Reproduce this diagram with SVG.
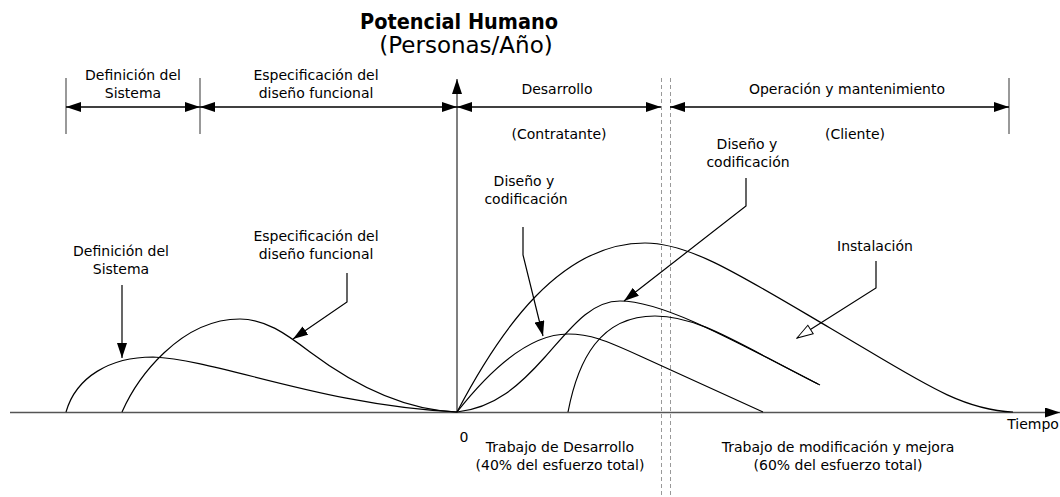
<svg xmlns="http://www.w3.org/2000/svg" width="1060" height="497" viewBox="0 0 1060 497">
<style>
text{font-family:"DejaVu Sans","Liberation Sans",sans-serif;font-size:14px;fill:#000;text-anchor:middle}
.title{font-weight:bold;font-size:22px}
.sub{font-size:23px}
.curve{fill:none;stroke:#000;stroke-width:1.2}
.call{fill:none;stroke:#000;stroke-width:1.2}
.dim{fill:none;stroke:#000;stroke-width:1.4}
.tick{stroke:#777;stroke-width:1.5}
.axis{stroke:#555;stroke-width:1.5;fill:none}
.dash{stroke:#999;stroke-width:1;stroke-dasharray:4 3}
</style>
<defs>
<marker id="ah" viewBox="0 0 15 10" refX="15" refY="5" markerWidth="15" markerHeight="10" markerUnits="userSpaceOnUse" orient="auto-start-reverse"><path d="M0,0 L15,5 L0,10 z" fill="#000"/></marker>
<marker id="ao" viewBox="-1 -1 18 12" refX="16" refY="5" markerWidth="18" markerHeight="12" markerUnits="userSpaceOnUse" orient="auto"><path d="M0,0 L16,5 L0,10 z" fill="#fff" stroke="#000" stroke-width="1"/></marker>
</defs>
<rect width="1060" height="497" fill="#fff"/>

<g id="axes">
<line class="dash" x1="661.5" y1="78" x2="661.5" y2="497"/>
<line class="dash" x1="670.5" y1="78" x2="670.5" y2="497"/>
<line class="axis" x1="10" y1="412.5" x2="1060" y2="412.5" marker-end="url(#ah)"/>
<line class="axis" x1="457" y1="412.5" x2="457" y2="79" marker-end="url(#ah)"/>
<line class="tick" x1="66" y1="78" x2="66" y2="134"/>
<line class="tick" x1="200" y1="78" x2="200" y2="134"/>
<line class="tick" x1="1009" y1="78" x2="1009" y2="134"/>
</g>

<g id="title">
<text class="title" x="459" y="29" textLength="198" lengthAdjust="spacingAndGlyphs">Potencial Humano</text>
<text class="sub" x="466" y="53">(Personas/Año)</text>
</g>

<g id="connectors">
<path class="dim" d="M66,107 H200" marker-start="url(#ah)" marker-end="url(#ah)"/>
<path class="dim" d="M200,107 H457" marker-start="url(#ah)" marker-end="url(#ah)"/>
<path class="dim" d="M457,107 H661" marker-start="url(#ah)" marker-end="url(#ah)"/>
<path class="dim" d="M670,107 H1009" marker-start="url(#ah)" marker-end="url(#ah)"/>
<path class="call" d="M122,285 L122,358" marker-end="url(#ah)"/>
<path class="call" d="M347,273 L347,302 L293,339" marker-end="url(#ah)"/>
<path class="call" d="M523,227 L523,255 L543,336" marker-end="url(#ah)"/>
<path class="call" d="M746,178 L746,206 L624,301" marker-end="url(#ah)"/>
<path class="call" d="M876,261 L876,288 L797,338" marker-end="url(#ao)"/>
</g>

<g id="curves">
<path id="c-definicion" class="curve" d="M66,412 C76,377 110,357 153,357 C220,360 320,405 457,412"/>
<path id="c-especificacion" class="curve" d="M122,412 C137,378 180,319 240,319 C265,319 285,333 310,352 C350,382 400,410 457,412"/>
<path id="c-instalacion" class="curve" d="M457,412 C500,330 560,243 645,243 C690,243 740,275 830,328 C920,381 960,410 1013,412"/>
<path id="c-diseno1" class="curve" d="M457,412 C490,370 530,334 568,334 C590,334 605,340 640,356 L763,412"/>
<path id="c-diseno2" class="curve" d="M457,412 C495,408 520,385 545,357 C570,329 590,301 620,301 C660,301 720,333 820,385"/>
<path id="c-diseno3" class="curve" d="M568,412 C578,360 600,316 655,316 C700,316 740,345 818,384"/>
</g>

<g id="phase-definicion">
<text x="133" y="80">Definición del</text>
<text x="133" y="98">Sistema</text>
</g>
<g id="phase-especificacion">
<text x="316" y="80">Especificación del</text>
<text x="316" y="98">diseño funcional</text>
</g>
<g id="phase-desarrollo">
<text x="557" y="94">Desarrollo</text>
<text x="559" y="139">(Contratante)</text>
</g>
<g id="phase-operacion">
<text x="847" y="94">Operación y mantenimiento</text>
<text x="855" y="139">(Cliente)</text>
</g>
<g id="label-definicion">
<text x="121" y="256">Definición del</text>
<text x="121" y="274">Sistema</text>
</g>
<g id="label-especificacion">
<text x="316" y="241">Especificación del</text>
<text x="316" y="259">diseño funcional</text>
</g>
<g id="label-diseno-left">
<text x="524" y="186">Diseño y</text>
<text x="526" y="204">codificación</text>
</g>
<g id="label-diseno-right">
<text x="747" y="149">Diseño y</text>
<text x="748" y="167">codificación</text>
</g>
<g id="label-instalacion">
<text x="875" y="251">Instalación</text>
</g>
<g id="label-origin">
<text x="464" y="442">0</text>
</g>
<g id="label-tiempo">
<text x="1033" y="429">Tiempo</text>
</g>
<g id="label-trabajo-desarrollo">
<text x="560" y="452">Trabajo de Desarrollo</text>
<text x="560" y="470">(40% del esfuerzo total)</text>
</g>
<g id="label-trabajo-mejora">
<text x="838" y="452">Trabajo de modificación y mejora</text>
<text x="838" y="470">(60% del esfuerzo total)</text>
</g>
</svg>
